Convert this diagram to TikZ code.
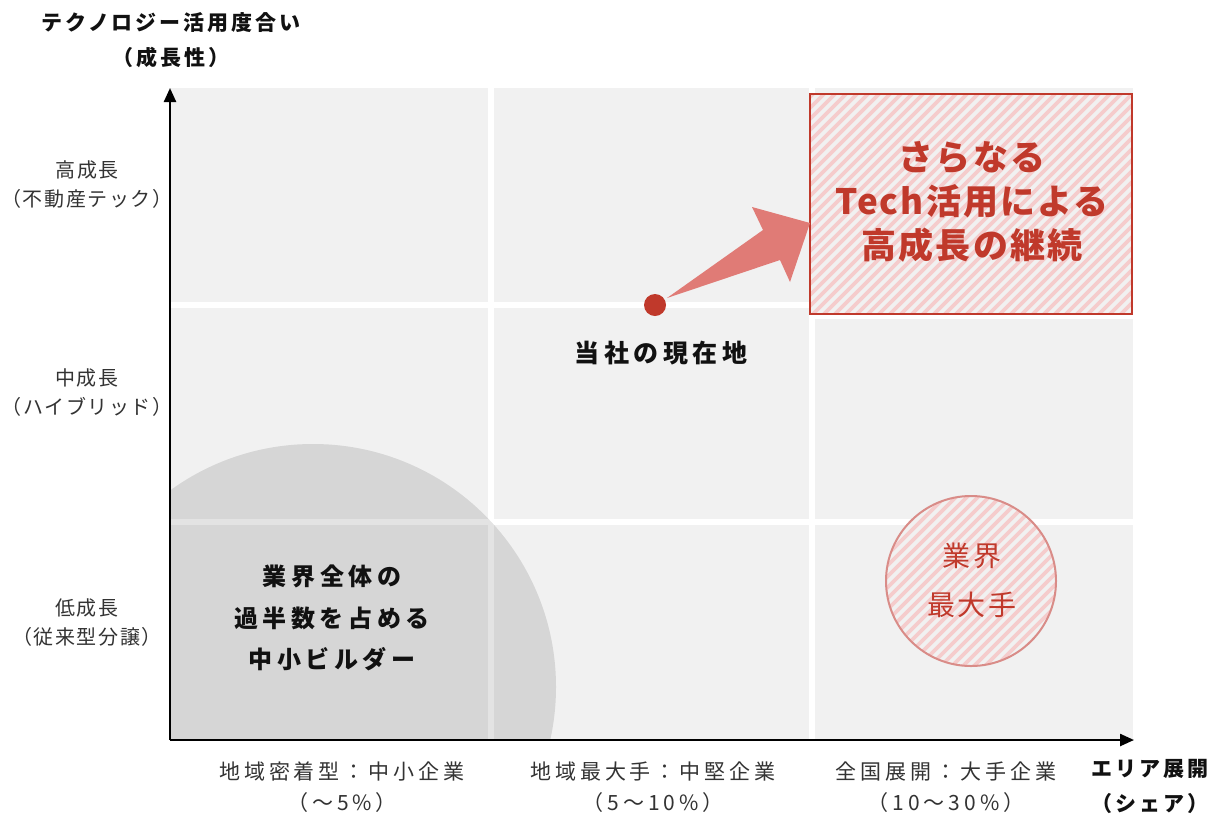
\documentclass[tikz,border=0pt]{standalone}
\usepackage{fontspec}
\setmainfont{Noto Sans CJK JP}
\newfontfamily\jpA[LetterSpace=8]{Noto Sans CJK JP}
\newfontfamily\jpB[LetterSpace=19]{Noto Sans CJK JP}
\newfontfamily\jpT[LetterSpace=14]{Noto Sans CJK JP}
\newfontfamily\jpN[LetterSpace=18]{Noto Sans CJK JP}
\newfontfamily\jpC[LetterSpace=6]{Noto Sans CJK JP}
\newfontfamily\jpD[LetterSpace=10]{Noto Sans CJK JP}
\usetikzlibrary{arrows.meta}
\definecolor{bg}{HTML}{F1F1F1}
\definecolor{redA}{HTML}{C0392B}
\definecolor{arrowred}{HTML}{E07B76}
\definecolor{stripe}{HTML}{F5CCCC}
\definecolor{circborder}{HTML}{D98C88}
\definecolor{txt}{HTML}{333333}
\definecolor{dark}{HTML}{111111}
\tikzset{
  lbl/.style={inner sep=0pt, align=center, text=txt},
  ylbl/.style={lbl, font=\jpA\fontsize{20}{29}\selectfont},
  xlbl/.style={lbl, font=\jpB\fontsize{21}{31}\selectfont},
  ttl/.style={inner sep=0pt, align=center, text=dark, font=\jpT\bfseries\fontsize{21}{35}\selectfont},
  gridline/.style={white, line width=5.5pt},
  stripeline/.style={stripe, line width=3.6pt},
  axis/.style={line width=2.4pt, -{Triangle[length=14pt,width=12pt]}}
}
\begin{document}
\begin{tikzpicture}[x=1pt,y=-1pt]
\useasboundingbox (0,0) rectangle (1214,815);
% background panels
\fill[bg] (170,88) rectangle (1133,740);
\draw[gridline] (491,88) -- (491,740);
\draw[gridline] (812,88) -- (812,740);
\draw[gridline] (170,305) -- (1133,305);
\draw[gridline] (170,522) -- (1133,522);
% grey circle
\begin{scope}
  \clip (170,0) rectangle (1214,740);
  \fill[black, opacity=0.11] (313,687) circle (243);
\end{scope}
% red box with stripes
\fill[bg] (810,94) rectangle (1132,314);
\draw[white, line width=4pt] (812,317) -- (1133,317);
\begin{scope}
  \clip (810,94) rectangle (1132,314);
  \foreach \c in {896,907,...,1460} {
    \draw[stripeline] (\c-340,340) -- (\c-80,80);
  }
\end{scope}
\draw[redA, line width=2.4pt] (810,94) rectangle (1132,314);
\node[inner sep=0pt, align=center, text=redA, font=\jpC\bfseries\fontsize{35}{44}\selectfont] (goal) at (972,202) {さらなる\\Tech活用による\\高成長の継続};
% arrow
\fill[arrowred] (667,298) -- (763,230) -- (752,207) -- (810,223) -- (790,282) -- (780,260) -- cycle;
\fill[redA] (655,305) circle (11);
\node[inner sep=0pt, text=dark, font=\jpN\bfseries\fontsize{25}{30}\selectfont] (now) at (661,353) {当社の現在地};
% big players circle
\fill[bg] (971,581) circle (85);
\begin{scope}
  \clip (971,581) circle (85);
  \foreach \c in {1420,1431,...,1690} {
    \draw[stripeline] (\c-700,700) -- (\c-460,460);
  }
\end{scope}
\draw[circborder, line width=2pt] (971,581) circle (85);
\node[inner sep=0pt, align=center, text=redA, font=\jpD\fontsize{28}{49}\selectfont] (big) at (972,580) {業界\\最大手};
% small builders text
\node[inner sep=0pt, align=center, text=dark, font=\jpB\bfseries\fontsize{24}{41.5}\selectfont] (small) at (332,618) {業界全体の\\過半数を占める\\中小ビルダー};
% axes
\coordinate (o) at (170,740);
\coordinate (ytop) at (170,88);
\coordinate (xend) at (1134,740);
\draw[axis] (o) -- (ytop);
\draw[axis] (o) -- (xend);
% axis titles
\node[ttl] (ytitle) at (171,40) {テクノロジー活用度合い\\（成長性）};
\node[ttl] (xtitle) at (1150,786) {エリア展開\\（シェア）};
% y labels
\node[ylbl] (yl1) at (87,185) {高成長\\（不動産テック）};
\node[ylbl] (yl2) at (87,393) {中成長\\（ハイブリッド）};
\node[ylbl] (yl3) at (87,623) {低成長\\（従来型分譲）};
% x labels
\node[xlbl] (xl1) at (342,787) {地域密着型：中小企業\\（～5\%）};
\node[xlbl] (xl2) at (653,787) {地域最大手：中堅企業\\（5～10\%）};
\node[xlbl] (xl3) at (946,787) {全国展開：大手企業\\（10～30\%）};
\end{tikzpicture}
\end{document}
